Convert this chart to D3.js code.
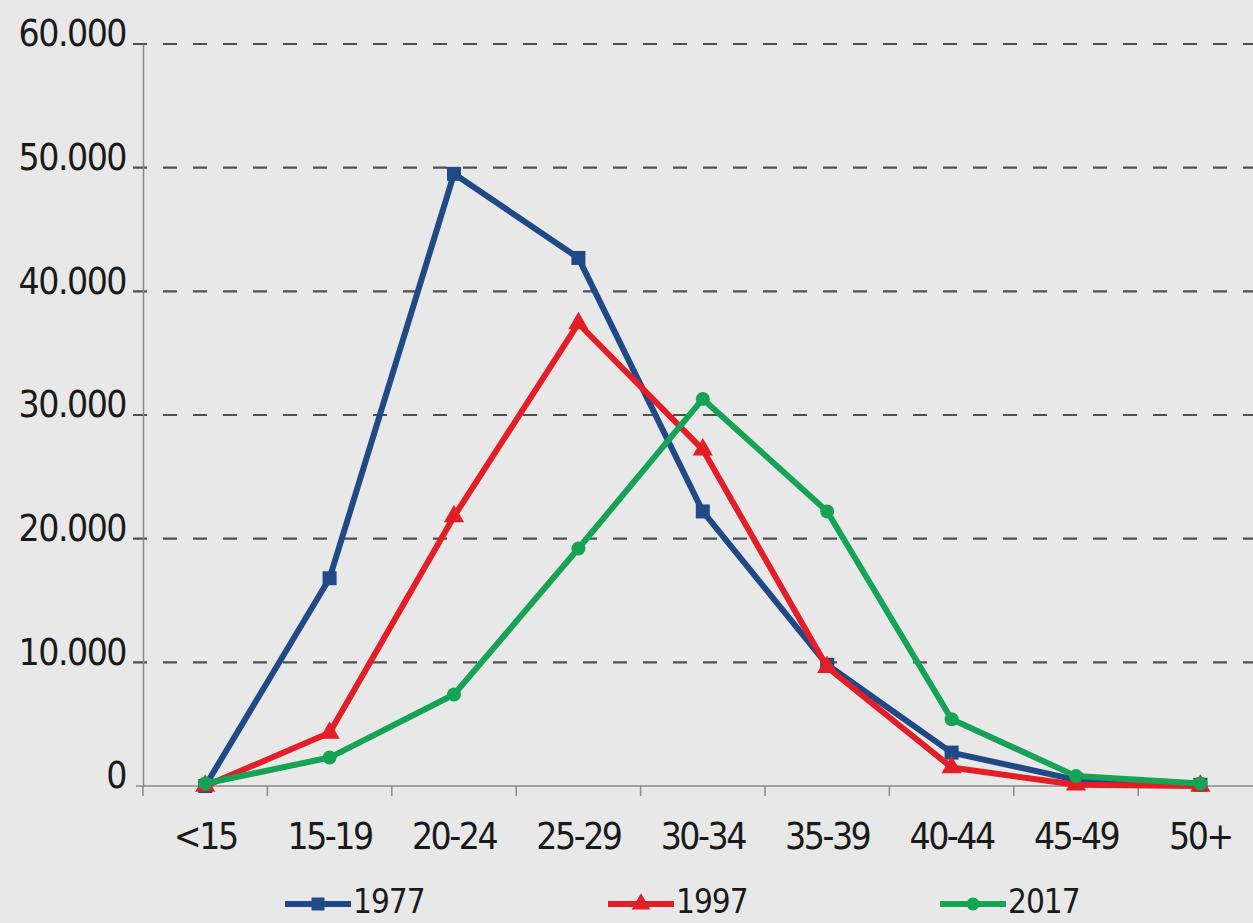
<!DOCTYPE html>
<html>
<head>
<meta charset="utf-8">
<script src="https://cdn.jsdelivr.net/npm/d3@7"></script>
<style>
html,body{margin:0;padding:0;background:#e8e8e8;}
svg{display:block;}
text{font-family:"DejaVu Sans Condensed","DejaVu Sans",sans-serif;fill:#1a1a1a;}
</style>
</head>
<body>
<svg id="chart" width="1253" height="923"></svg>
<script>
const categories = ["<15","15-19","20-24","25-29","30-34","35-39","40-44","45-49","50+"];
const seriesNames = ["1977","1997","2017"];
const values1977 = [0, 16800, 49500, 42700, 22200, 9800, 2700, 500, 100];
const values1997 = [0, 4300, 21800, 37400, 27200, 9600, 1500, 100, 0];
const values2017 = [200, 2300, 7400, 19200, 31300, 22200, 5400, 800, 200];
const yTicks = [0, 10000, 20000, 30000, 40000, 50000, 60000];
const colors = ["#1f4a86", "#e41e26", "#16a356"];
const markers = ["square", "triangle", "circle"];

const svg = d3.select("#chart");
const W = 1253, H = 923;
svg.append("rect").attr("width", W).attr("height", H).attr("fill", "#e8e8e8");

const x = d3.scaleBand().domain(categories).range([143, 143 + 9 * 124.4]).padding(0);
const y = d3.scaleLinear().domain([0, 60000]).range([786, 44]);
const loc = d3.formatLocale({decimal: ",", thousands: ".", grouping: [3], currency: ["", ""]});
const fmt = loc.format(",d");

// gridlines
const grid = svg.append("g");
grid.selectAll("line").data(yTicks.filter(d => d > 0)).join("line")
  .attr("x1", 133).attr("x2", W)
  .attr("y1", d => y(d)).attr("y2", d => y(d))
  .attr("stroke", "#505050").attr("stroke-width", 2.2)
  .attr("stroke-dasharray", "14,16");

// y axis
const yAxis = d3.axisLeft(y).tickValues(yTicks).tickFormat(fmt).tickSize(0).tickPadding(17);
const gy = svg.append("g").attr("transform", "translate(143,0)").call(yAxis);
gy.select(".domain").attr("stroke", "#8a8a8a").attr("stroke-width", 1.5);
gy.selectAll("text").attr("font-size", 37).attr("font-family", "DejaVu Sans Condensed").attr("letter-spacing", -1.5).attr("dy", "0.05em").attr("fill", "#1a1a1a");

// x axis
const gx = svg.append("g").attr("transform", "translate(0,786)");
gx.append("line").attr("x1", 136).attr("x2", W).attr("y1", 0).attr("y2", 0)
  .attr("stroke", "#8a8a8a").attr("stroke-width", 1.5);
const bounds = d3.range(categories.length + 1).map(i => x.range()[0] + i * x.step());
gx.selectAll("line.tk").data(bounds).join("line").attr("class", "tk")
  .attr("x1", d => d).attr("x2", d => d).attr("y1", 0).attr("y2", 10)
  .attr("stroke", "#8a8a8a").attr("stroke-width", 1.5);
gx.selectAll("text").data(categories).join("text")
  .attr("x", d => x(d) + x.bandwidth() / 2)
  .attr("y", 63)
  .attr("text-anchor", "middle")
  .attr("font-size", 37).attr("letter-spacing", -2.5)
  .text(d => d);

// lines
const data = [values1977, values1997, values2017];
const line = d3.line().x((d, i) => x(categories[i]) + x.bandwidth() / 2).y(d => y(d));

function drawMarker(g, type, cx, cy, color, s) {
  if (type === "square") {
    g.append("rect").attr("x", cx - s / 2).attr("y", cy - s / 2).attr("width", s).attr("height", s).attr("fill", color);
  } else if (type === "triangle") {
    g.append("path").attr("d", d3.symbol().type(d3.symbolTriangle).size(s * s * 0.9)()).attr("transform", `translate(${cx},${cy})`).attr("fill", color);
  } else {
    g.append("circle").attr("cx", cx).attr("cy", cy).attr("r", s / 2).attr("fill", color);
  }
}

const series = svg.append("g");
data.forEach((vals, k) => {
  const g = series.append("g");
  g.append("path").datum(vals).attr("d", line)
    .attr("fill", "none").attr("stroke", colors[k]).attr("stroke-width", 6).attr("stroke-linejoin", "round");
  vals.forEach((v, i) => drawMarker(g, markers[k], x(categories[i]) + x.bandwidth() / 2, y(v), colors[k], 14));
});

// legend
const legendX = [285, 608, 940];
const leg = svg.append("g");
seriesNames.forEach((n, k) => {
  const g = leg.append("g");
  const lx = legendX[k], ly = 904;
  g.append("line").attr("x1", lx).attr("x2", lx + 66).attr("y1", ly).attr("y2", ly)
    .attr("stroke", colors[k]).attr("stroke-width", 6);
  drawMarker(g, markers[k], lx + 33, ly, colors[k], 13);
  g.append("text").attr("x", lx + 68).attr("y", 913).attr("font-size", 33).attr("letter-spacing", -1).text(n);
});
</script>
</body>
</html>
